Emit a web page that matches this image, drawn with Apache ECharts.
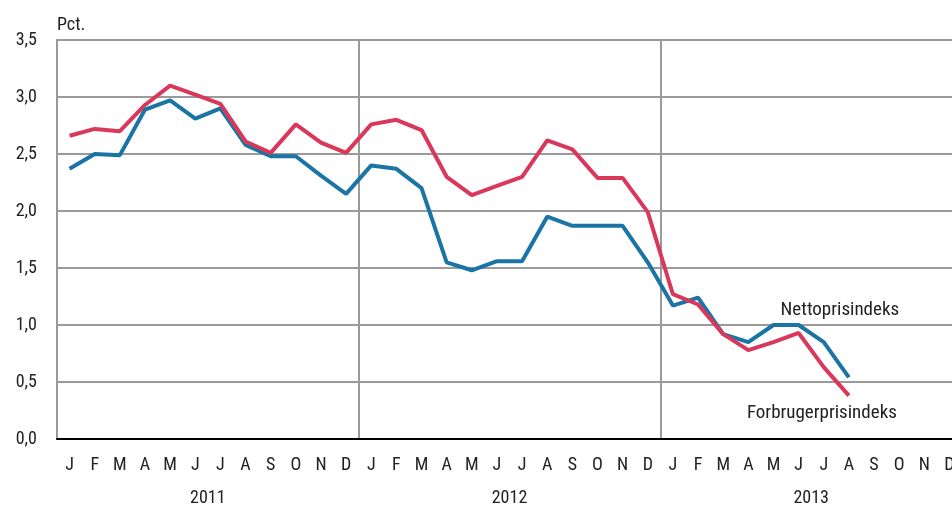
<!DOCTYPE html>
<html>
<head>
<meta charset="utf-8">
<script src="https://cdn.jsdelivr.net/npm/echarts@6/dist/echarts.min.js"></script>
<style>
html,body{margin:0;padding:0;background:#fff;}
#chart{width:952px;height:507px;}
</style>
</head>
<body>
<div id="chart"></div>
<script>
var months = ['J','F','M','A','M','J','J','A','S','O','N','D'];
var years = ['2011','2012','2013'];
var yTicks = [0, 0.5, 1.0, 1.5, 2.0, 2.5, 3.0, 3.5];
var nettoName = 'Nettoprisindeks';
var forbrugName = 'Forbrugerprisindeks';
var netto = [2.37,2.50,2.49,2.89,2.97,2.81,2.90,2.58,2.48,2.48,2.31,2.15,
             2.40,2.37,2.20,1.55,1.48,1.56,1.56,1.95,1.87,1.87,1.87,1.55,
             1.17,1.24,0.92,0.85,1.00,1.00,0.85,0.54,null,null,null,null];
var forbrug = [2.66,2.72,2.70,2.93,3.10,3.02,2.94,2.61,2.51,2.76,2.60,2.51,
               2.76,2.80,2.71,2.30,2.14,2.22,2.30,2.62,2.54,2.29,2.29,1.99,
               1.27,1.18,0.92,0.78,0.85,0.93,0.63,0.38,null,null,null,null];

var categories = [];
years.forEach(function(y){ months.forEach(function(m){ categories.push(y + '-' + m); }); });

function lastIndex(arr){ for (var i = arr.length-1; i>=0; i--) if (arr[i] != null) return i; return -1; }
var ni = lastIndex(netto), fi = lastIndex(forbrug);

var FONT = "'Liberation Sans Narrow','Arial Narrow','Roboto Condensed',sans-serif";
var chart = echarts.init(document.getElementById('chart'), null, {renderer:'canvas'});
chart.setOption({
  animation: false,
  backgroundColor: '#ffffff',
  textStyle: {fontFamily: FONT},
  grid: {left: 57, width: 905, top: 40, bottom: 68, containLabel: false, outerBoundsMode: 'none'},
  xAxis: [{
    type: 'category',
    data: categories,
    boundaryGap: true,
    axisLine: {show: true, lineStyle: {color: '#000', width: 2}},
    axisTick: {show: false},
    splitLine: {show: false},
    axisLabel: {interval: 0, margin: 17, fontSize: 18, color: '#222', fontFamily: FONT,
      formatter: function(v){ return v.split('-')[1]; }}
  },{
    type: 'category',
    data: years,
    position: 'bottom',
    offset: 42,
    boundaryGap: true,
    axisLine: {show: false},
    axisTick: {show: false},
    splitLine: {show: true, lineStyle: {color: '#9a9a9a', width: 2}},
    axisLabel: {interval: 0, margin: 8, fontSize: 18, color: '#222', fontFamily: FONT}
  }],
  yAxis: {
    type: 'value',
    min: yTicks[0],
    max: yTicks[yTicks.length-1],
    interval: 0.5,
    name: 'Pct.',
    nameLocation: 'end',
    nameGap: 15,
    nameTextStyle: {align: 'left', verticalAlign: 'middle', fontSize: 18, color: '#222', fontFamily: FONT},
    axisLine: {show: true, lineStyle: {color: '#9a9a9a', width: 2}},
    axisTick: {show: false},
    splitLine: {show: true, lineStyle: {color: '#9a9a9a', width: 2}},
    axisLabel: {margin: 20, fontSize: 18, color: '#222', fontFamily: FONT,
      formatter: function(v){ return v.toFixed(1).replace('.', ','); }}
  },
  series: [{
    name: nettoName,
    type: 'line',
    data: netto,
    showSymbol: false,
    symbol: 'none',
    lineStyle: {color: '#1a74a6', width: 4},
    itemStyle: {color: '#1a74a6'},
    z: 2,
    markPoint: {
      symbol: 'circle', symbolSize: 1,
      itemStyle: {color: 'rgba(0,0,0,0)'},
      data: [{coord: [ni, netto[ni]],
        label: {show: true, formatter: nettoName, position: 'top', distance: 0,
          offset: [-9, -57], fontSize: 19, color: '#222', fontFamily: FONT}}]
    }
  },{
    name: forbrugName,
    type: 'line',
    data: forbrug,
    showSymbol: false,
    symbol: 'none',
    lineStyle: {color: '#d9385b', width: 4},
    itemStyle: {color: '#d9385b'},
    z: 3,
    markPoint: {
      symbol: 'circle', symbolSize: 1,
      itemStyle: {color: 'rgba(0,0,0,0)'},
      data: [{coord: [fi, forbrug[fi]],
        label: {show: true, formatter: forbrugName, position: 'bottom', distance: 0,
          offset: [-27, 8], fontSize: 19, color: '#222', fontFamily: FONT}}]
    }
  }]
});
</script>
</body>
</html>
